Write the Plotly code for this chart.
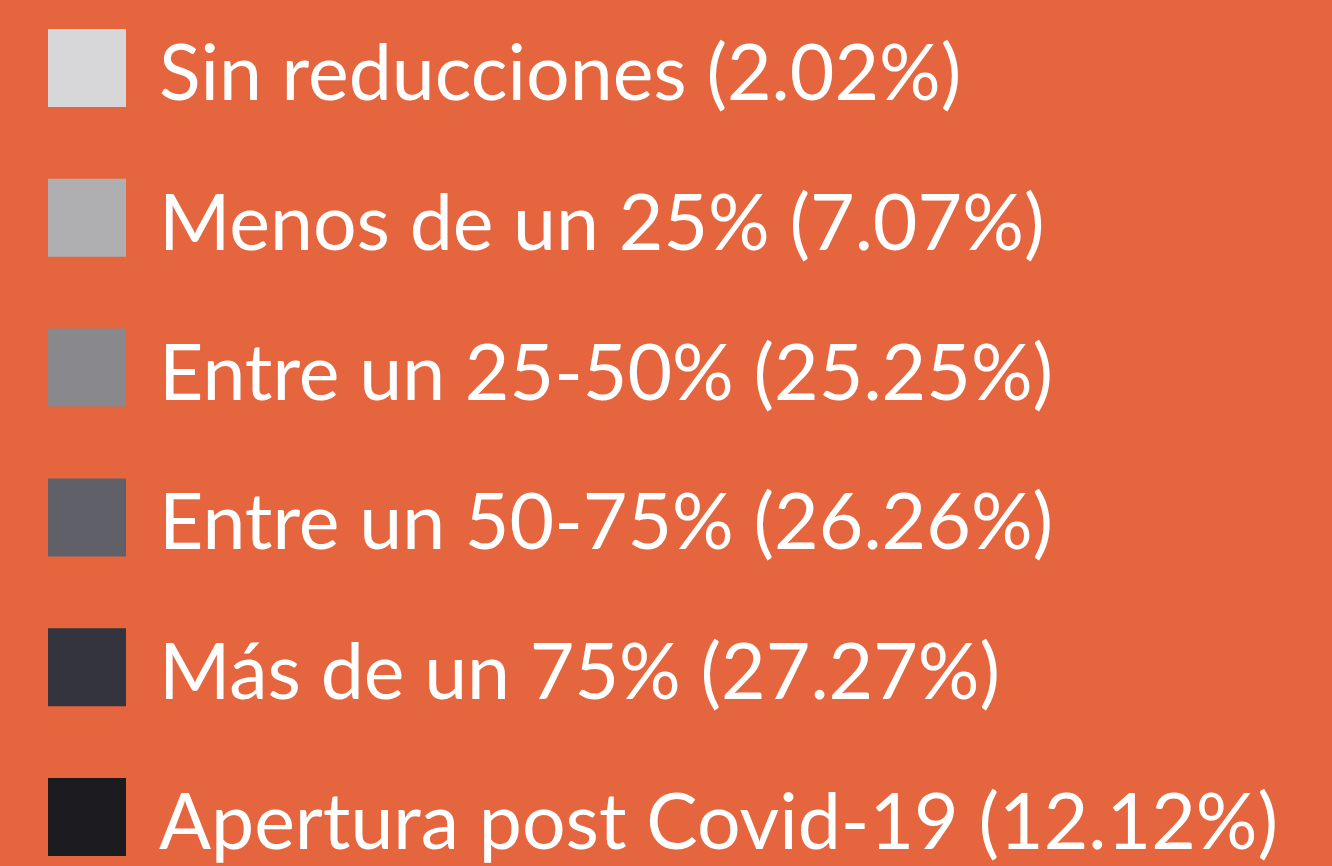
import plotly.graph_objects as go

categories = ["Sin reducciones", "Menos de un 25%", "Entre un 25-50%",
              "Entre un 50-75%", "Más de un 75%", "Apertura post Covid-19"]
percentages = [2.02, 7.07, 25.25, 26.26, 27.27, 12.12]
colors = ["#D7D7D9", "#AFAFB2", "#88888D", "#5F6068", "#33343D", "#1C1C20"]

labels = [f"{c} ({p:.2f}%)" for c, p in zip(categories, percentages)]
ypos = list(range(len(categories)))

BG = "#E5653E"
W, H = 1332, 866

fig = go.Figure()
fig.add_trace(go.Scatter(
    x=[0] * len(categories), y=ypos, mode="markers",
    marker=dict(symbol="square", size=78, color=colors, line=dict(width=0)),
    hoverinfo="text", hovertext=labels, showlegend=False,
))

for y, lab in zip(ypos, labels):
    fig.add_annotation(x=0, y=y, text=lab, showarrow=False, xanchor="left",
                       yanchor="middle", xshift=70, yshift=-2,
                       font=dict(family="Lato", size=77, color="white"))

step = 149.8
fig.update_layout(
    width=W, height=H,
    margin=dict(l=0, r=0, t=0, b=0),
    paper_bgcolor=BG, plot_bgcolor=BG,
    xaxis=dict(range=[-87, W - 87], visible=False, fixedrange=True),
    yaxis=dict(range=[(H - 68) / step, -68 / step], visible=False, fixedrange=True),
)

fig.write_html("out.html", config={"displayModeBar": False},
               post_script="document.body.style.margin='0';document.body.style.overflow='hidden';")
